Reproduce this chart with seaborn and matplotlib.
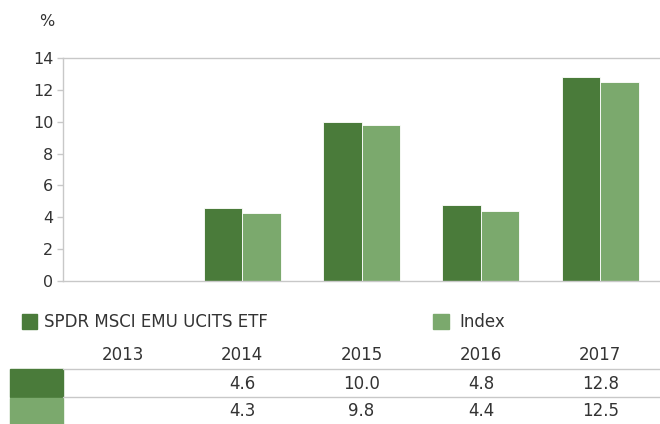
import numpy as np
import pandas as pd
import matplotlib
matplotlib.use("Agg")
import matplotlib.pyplot as plt
import seaborn as sns
from matplotlib.patches import Rectangle
from matplotlib.lines import Line2D

years = ["2013", "2014", "2015", "2016", "2017"]
etf_values = [np.nan, 4.6, 10.0, 4.8, 12.8]
index_values = [np.nan, 4.3, 9.8, 4.4, 12.5]
series_names = ["SPDR MSCI EMU UCITS ETF", "Index"]
y_ticks = [0, 2, 4, 6, 8, 10, 12, 14]

DARK = "#4a7b3a"
LIGHT = "#7ba96d"
TXT = "#333333"
GRID = "#c8c8c8"
FS = 12

sns.set_theme(style="white")
plt.rcParams["font.family"] = ["DejaVu Sans"]

df = pd.DataFrame({
    "year": years * 2,
    "value": etf_values + index_values,
    "series": [series_names[0]] * len(years) + [series_names[1]] * len(years),
})

W, H = 660, 424
fig = plt.figure(figsize=(W / 100, H / 100), dpi=100)
fig.patch.set_facecolor("white")

def fx(px):
    return px / W

def fy(py):
    return 1 - py / H

ax = fig.add_axes([fx(63), fy(281), fx(597), 223 / H])
sns.barplot(data=df, x="year", y="value", hue="series", order=years,
            hue_order=series_names, palette=[DARK, LIGHT], width=0.645,
            gap=0.0, ax=ax, legend=False, edgecolor="white", linewidth=0.6,
            saturation=1)

ax.set_ylim(0, 14)
ax.set_xlim(-0.5, len(years) - 0.5)
ax.set_yticks(y_ticks)
ax.set_yticklabels([str(t) for t in y_ticks], fontsize=11.5, color=TXT)
ax.set_xticks([])
ax.set_xlabel("")
ax.set_ylabel("")
for s in ["top", "bottom", "left"]:
    ax.spines[s].set_visible(True)
    ax.spines[s].set_color(GRID)
    ax.spines[s].set_linewidth(1.0)
ax.spines["right"].set_visible(False)
ax.tick_params(axis="y", left=True, length=4, width=1, color=GRID, pad=3)
ax.set_facecolor("white")

fig.text(fx(47), fy(21), "%", fontsize=11.5, color=TXT, ha="center", va="center")

# Legend
fig.patches.append(Rectangle((fx(22), fy(329)), fx(15), 15 / H,
                             transform=fig.transFigure, color=DARK))
fig.text(fx(44), fy(322), series_names[0], fontsize=FS, color=TXT,
         ha="left", va="center")
fig.patches.append(Rectangle((fx(433), fy(329)), fx(16), 15 / H,
                             transform=fig.transFigure, color=LIGHT))
fig.text(fx(459), fy(322), series_names[1], fontsize=FS, color=TXT,
         ha="left", va="center")

# Table
centers = [63 + 119.4 * (i + 0.5) for i in range(len(years))]
for cx, yr in zip(centers, years):
    fig.text(fx(cx), fy(355), yr, fontsize=FS, color=TXT, ha="center", va="center")

for ly in [369, 397]:
    fig.lines.append(Line2D([fx(63), fx(660)], [fy(ly), fy(ly)],
                            transform=fig.transFigure, color=GRID, lw=1))

fig.patches.append(Rectangle((fx(10), fy(397)), fx(53), 28 / H,
                             transform=fig.transFigure, color=DARK))
fig.patches.append(Rectangle((fx(10), fy(424)), fx(53), 26.5 / H,
                             transform=fig.transFigure, color=LIGHT))

for row_y, vals in [(384, etf_values), (411, index_values)]:
    for cx, v in zip(centers, vals):
        if v is None or (isinstance(v, float) and np.isnan(v)):
            continue
        fig.text(fx(cx), fy(row_y), f"{v:.1f}", fontsize=FS, color=TXT,
                 ha="center", va="center")

fig.savefig("out.png", dpi=100, facecolor="white")
